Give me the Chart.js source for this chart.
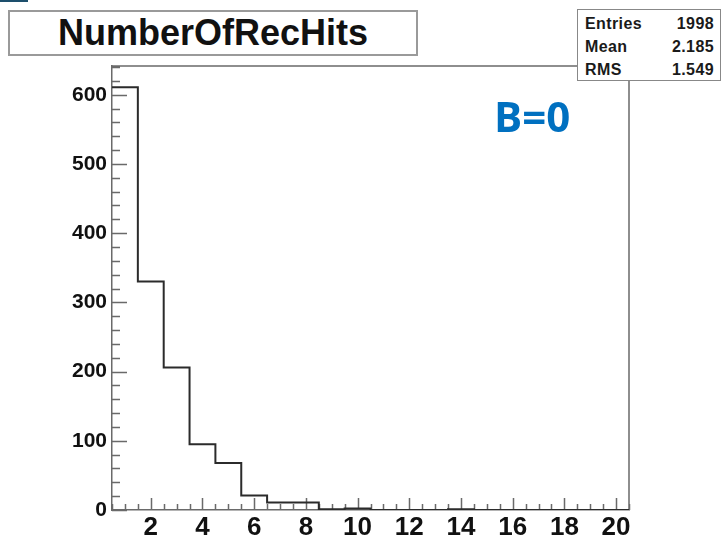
<!DOCTYPE html>
<html>
<head>
<meta charset="utf-8">
<script src="https://cdn.jsdelivr.net/npm/chart.js@4.4.1/dist/chart.umd.min.js"></script>
<style>
    body { margin: 0; background: #fff; }
    #wrap { position: relative; width: 724px; height: 539px; }
    #hist { position: absolute; left: 0; top: 0; }
    .corner { position: absolute; left: 0; top: 0; width: 28px; height: 2px; background: #1d4f6c; }
    .title-box {
        position: absolute; left: 8px; top: 10px; width: 406px; height: 42px;
        border: 2px solid #9a9a9a; background: #fff;
        font: bold 36px "Liberation Sans", Arial, sans-serif; color: #111;
        text-align: center; line-height: 42px;
    }
    .stats {
        position: absolute; left: 577px; top: 9px; width: 142px; height: 70px;
        border: 1.5px solid #888; background: #fff;
        font: bold 16px "Liberation Sans", Arial, sans-serif; color: #1a1a1a;
        letter-spacing: 0.4px;
    }
    .stats div { position: absolute; left: 7px; right: 6px; height: 22px; line-height: 22px; }
    .stats span { float: right; }
    .tag {
        position: absolute; left: 494px; top: 95px;
        font: bold 42px "Open Sans", sans-serif; line-height: 42px; color: #0070c0;
    }
</style>
</head>
<body>
<div id="wrap">
    <canvas id="hist" width="724" height="539"></canvas>
    <div class="corner"></div>
    <div class="title-box">NumberOfRecHits</div>
    <div class="stats">
        <div style="top:3px">Entries<span>1998</span></div>
        <div style="top:26px">Mean<span>2.185</span></div>
        <div style="top:49px">RMS<span>1.549</span></div>
    </div>
    <div class="tag">B=0</div>
</div>
<script>
// bin centres (number of rec hits) and counts per bin
const binCenters = [1, 2, 3, 4, 5, 6, 7, 8, 9, 10, 11, 12, 13, 14, 15, 16, 17, 18, 19, 20];
const binCounts = [611, 330, 206, 95, 68, 21, 11, 11, 1, 2, 0, 0, 0, 1, 0, 0, 0, 0, 0, 0];
const xTickLabels = [2, 4, 6, 8, 10, 12, 14, 16, 18, 20];
const yTickLabels = [0, 100, 200, 300, 400, 500, 600];

const binWidth = 1;
const xMin = binCenters[0] - binWidth / 2;
const xMax = binCenters[binCenters.length - 1] + binWidth / 2;
const yMax = Math.max(...binCounts) * 1.05;

// step outline: one point per lower bin edge, plus the closing upper edge
const outline = binCenters.map((c, i) => ({ x: c - binWidth / 2, y: binCounts[i] }));
outline.push({ x: xMax, y: binCounts[binCounts.length - 1] });

const axisColor = '#6a6a6a';

// inward major/minor ticks and the top/right frame lines
const frameTicks = {
    id: 'frameTicks',
    beforeDatasetsDraw(chart) {
        const { ctx, chartArea: a, scales: { x, y } } = chart;
        ctx.save();
        ctx.strokeStyle = axisColor;
        ctx.lineWidth = 1.5;
        ctx.beginPath();
        ctx.moveTo(a.left, a.top);
        ctx.lineTo(a.right, a.top);
        ctx.lineTo(a.right, a.bottom);
        for (let v = 0; v <= yMax; v += 20) {
            const py = Math.round(y.getPixelForValue(v)) + 0.5;
            const len = v % 100 === 0 ? 15 : 8;
            ctx.moveTo(a.left, py);
            ctx.lineTo(a.left + len, py);
        }
        for (let v = xMin; v <= xMax + 1e-9; v += 0.5) {
            const px = Math.round(x.getPixelForValue(v)) + 0.5;
            const len = xTickLabels.includes(v) ? 12 : 6;
            ctx.moveTo(px, a.bottom);
            ctx.lineTo(px, a.bottom - len);
        }
        ctx.stroke();
        ctx.restore();
    }
};

new Chart(document.getElementById('hist'), {
    type: 'line',
    data: {
        datasets: [{
            data: outline,
            stepped: 'before',
            borderColor: '#2b2b2b',
            borderWidth: 2,
            pointRadius: 0,
            fill: false
        }]
    },
    options: {
        responsive: false,
        animation: false,
        layout: { padding: { left: 0, top: 66, right: 95, bottom: 0 } },
        plugins: {
            legend: { display: false },
            tooltip: { enabled: false }
        },
        scales: {
            x: {
                type: 'linear',
                min: xMin,
                max: xMax,
                grid: { display: false, drawTicks: false },
                border: { display: true, color: axisColor, width: 1.5 },
                afterBuildTicks: s => { s.ticks = xTickLabels.map(v => ({ value: v })); },
                afterFit: s => { s.height = 29; },
                ticks: {
                    padding: 2,
                    maxRotation: 0,
                    color: '#111',
                    font: { family: 'Liberation Sans', weight: 'bold', size: 26 }
                }
            },
            y: {
                min: 0,
                max: yMax,
                grid: { display: false, drawTicks: false },
                border: { display: true, color: axisColor, width: 1.5 },
                afterBuildTicks: s => { s.ticks = yTickLabels.map(v => ({ value: v })); },
                afterFit: s => { s.width = 112; },
                ticks: {
                    padding: 5,
                    color: '#111',
                    font: { family: 'Liberation Sans', weight: 'bold', size: 21 }
                }
            }
        }
    },
    plugins: [frameTicks]
});
</script>
</body>
</html>
